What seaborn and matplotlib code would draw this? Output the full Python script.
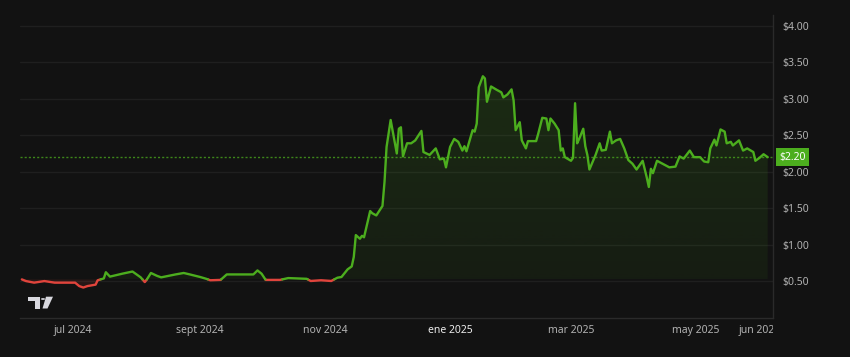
import numpy as np
import pandas as pd
import matplotlib
matplotlib.use("Agg")
import matplotlib.pyplot as plt
import matplotlib.dates as mdates
import seaborn as sns
from matplotlib.path import Path
from matplotlib.patches import PathPatch, Circle, Polygon
from matplotlib.transforms import Bbox, TransformedBbox, blended_transform_factory

# ---------------- data ----------------
dates = [
    "2024-06-06", "2024-06-08", "2024-06-12", "2024-06-17", "2024-06-22", "2024-07-02",
    "2024-07-04", "2024-07-06", "2024-07-08", "2024-07-12", "2024-07-13", "2024-07-16",
    "2024-07-17", "2024-07-19", "2024-07-25", "2024-07-30", "2024-08-03", "2024-08-05",
    "2024-08-06", "2024-08-08", "2024-08-11", "2024-08-13", "2024-08-20", "2024-08-24",
    "2024-08-27", "2024-09-01", "2024-09-04", "2024-09-06", "2024-09-11", "2024-09-14",
    "2024-09-24", "2024-09-27", "2024-09-29", "2024-10-01", "2024-10-03", "2024-10-10",
    "2024-10-14", "2024-10-23", "2024-10-25", "2024-10-30", "2024-11-04", "2024-11-07",
    "2024-11-09", "2024-11-12", "2024-11-14", "2024-11-15", "2024-11-16", "2024-11-18",
    "2024-11-19", "2024-11-20", "2024-11-21", "2024-11-23", "2024-11-24", "2024-11-26",
    "2024-11-29", "2024-11-30", "2024-12-01", "2024-12-03", "2024-12-06", "2024-12-07",
    "2024-12-08", "2024-12-09", "2024-12-11", "2024-12-13", "2024-12-15", "2024-12-18",
    "2024-12-19", "2024-12-22", "2024-12-25", "2024-12-27", "2024-12-29", "2024-12-30",
    "2025-01-01", "2025-01-03", "2025-01-05", "2025-01-07", "2025-01-08", "2025-01-09",
    "2025-01-12", "2025-01-13", "2025-01-14", "2025-01-15", "2025-01-17", "2025-01-18",
    "2025-01-19", "2025-01-21", "2025-01-24", "2025-01-26", "2025-01-27", "2025-01-29",
    "2025-01-31", "2025-02-01", "2025-02-02", "2025-02-04", "2025-02-05", "2025-02-07",
    "2025-02-08", "2025-02-12", "2025-02-13", "2025-02-15", "2025-02-17", "2025-02-18",
    "2025-02-19", "2025-02-21", "2025-02-23", "2025-02-24", "2025-02-25", "2025-02-26",
    "2025-03-01", "2025-03-02", "2025-03-03", "2025-03-04", "2025-03-05", "2025-03-07",
    "2025-03-08", "2025-03-09", "2025-03-10", "2025-03-13", "2025-03-15", "2025-03-16",
    "2025-03-18", "2025-03-20", "2025-03-21", "2025-03-23", "2025-03-25", "2025-03-27",
    "2025-03-29", "2025-03-31", "2025-04-02", "2025-04-05", "2025-04-07", "2025-04-08",
    "2025-04-09", "2025-04-10", "2025-04-12", "2025-04-16", "2025-04-18", "2025-04-21",
    "2025-04-23", "2025-04-25", "2025-04-28", "2025-04-30", "2025-05-03", "2025-05-05",
    "2025-05-07", "2025-05-08", "2025-05-10", "2025-05-11", "2025-05-13", "2025-05-15",
    "2025-05-16", "2025-05-18", "2025-05-19", "2025-05-22", "2025-05-24", "2025-05-26",
    "2025-05-29", "2025-05-30", "2025-06-01", "2025-06-03", "2025-06-05",
]
prices = [
    0.522, 0.499, 0.477, 0.499, 0.477, 0.477,
    0.43, 0.41, 0.43, 0.45, 0.51, 0.535,
    0.62, 0.56, 0.60, 0.63, 0.55, 0.485,
    0.52, 0.61, 0.57, 0.55, 0.59, 0.61,
    0.59, 0.555, 0.53, 0.51, 0.515, 0.59,
    0.59, 0.59, 0.645, 0.60, 0.515, 0.515,
    0.54, 0.53, 0.50, 0.51, 0.50, 0.545,
    0.555, 0.66, 0.70, 0.83, 1.13, 1.08,
    1.12, 1.10, 1.22, 1.46, 1.43, 1.40,
    1.53, 1.86, 2.34, 2.71, 2.25, 2.59,
    2.61, 2.21, 2.39, 2.39, 2.43, 2.56,
    2.27, 2.23, 2.32, 2.17, 2.18, 2.06,
    2.34, 2.45, 2.41, 2.29, 2.35, 2.28,
    2.57, 2.55, 2.66, 3.16, 3.31, 3.28,
    2.96, 3.17, 3.12, 3.09, 3.02, 3.06,
    3.13, 2.98, 2.57, 2.68, 2.43, 2.32,
    2.42, 2.42, 2.52, 2.74, 2.73, 2.57,
    2.73, 2.66, 2.57, 2.29, 2.32, 2.20,
    2.15, 2.19, 2.94, 2.39, 2.45, 2.59,
    2.35, 2.23, 2.03, 2.23, 2.39, 2.29,
    2.30, 2.55, 2.39, 2.43, 2.45, 2.32,
    2.16, 2.11, 2.03, 2.15, 1.92, 1.79,
    2.04, 1.98, 2.15, 2.09, 2.06, 2.07,
    2.21, 2.18, 2.29, 2.20, 2.20, 2.14,
    2.13, 2.32, 2.44, 2.36, 2.58, 2.55,
    2.39, 2.41, 2.36, 2.43, 2.29, 2.32,
    2.27, 2.15, 2.19, 2.24, 2.20,
]
tick_dates = ["2024-07-01", "2024-09-01", "2024-11-01", "2025-01-01",
              "2025-03-01", "2025-05-01", "2025-06-01"]
tick_labels = ["jul 2024", "sept 2024", "nov 2024", "ene 2025",
               "mar 2025", "may 2025", "jun 2025"]
y_ticks = [0.5, 1.0, 1.5, 2.0, 2.5, 3.0, 3.5, 4.0]
last_price = 2.20

# ---------------- style ----------------
BG = "#121212"
GREEN = "#4cae1e"
RED = "#e0443c"
GRID = "#1f1f1f"
TXT = "#b2b2b2"

sns.set_theme(style="dark", rc={
    "figure.facecolor": BG, "axes.facecolor": BG, "savefig.facecolor": BG,
})
plt.rcParams["font.family"] = ["Noto Sans", "DejaVu Sans"]

W, H = 850, 357
fig = plt.figure(figsize=(W / 100, H / 100), dpi=100)
ax = fig.add_axes([20 / W, 39 / H, 753 / W, 303 / H])
ax.set_facecolor(BG)

t = mdates.date2num(pd.to_datetime(dates).to_pydatetime())
p = np.array(prices, dtype=float)
base = p[0]

# insert crossings with the baseline so colours switch exactly there
pts_t, pts_p = [t[0]], [p[0]]
for i in range(len(p) - 1):
    a, b = p[i] - base, p[i + 1] - base
    if a * b < 0:
        f = a / (a - b)
        pts_t.append(t[i] + f * (t[i + 1] - t[i]))
        pts_p.append(base)
    pts_t.append(t[i + 1])
    pts_p.append(p[i + 1])
pts_t = np.array(pts_t)
pts_p = np.array(pts_p)

rows = []
seg = 0
prev_side = None
for j in range(len(pts_p) - 1):
    side = "up" if (pts_p[j] + pts_p[j + 1]) / 2 >= base else "down"
    if side != prev_side:
        seg += 1
        rows.append((pts_t[j], pts_p[j], seg, side))
        prev_side = side
    rows.append((pts_t[j + 1], pts_p[j + 1], seg, side))
df = pd.DataFrame(rows, columns=["t", "price", "seg", "side"])

# fills
up_poly = ax.fill_between(t, p, base, where=p >= base, interpolate=True,
                          color="none", lw=0)
ax.fill_between(t, p, base, where=p <= base, interpolate=True,
                color=RED, alpha=0.10, lw=0, zorder=1)

xmin = mdates.date2num(pd.Timestamp("2024-07-01").to_pydatetime()) - 25.9
xmax = xmin + 367.5
ymin, ymax = -0.008, 4.151

grad = np.zeros((256, 1, 4))
g = matplotlib.colors.to_rgb(GREEN)
grad[..., 0], grad[..., 1], grad[..., 2] = g
grad[:, 0, 3] = np.linspace(0.17, 0.07, 256)
im = ax.imshow(grad, extent=[xmin, xmax, base, p.max()], origin="upper",
               aspect="auto", zorder=1, interpolation="bilinear")
paths = up_poly.get_paths()
if paths:
    cp = PathPatch(Path.make_compound_path(*paths), transform=ax.transData,
                   facecolor="none", edgecolor="none")
    im.set_clip_path(cp)

# line
sns.lineplot(data=df, x="t", y="price", units="seg", hue="side",
             palette={"up": GREEN, "down": RED}, estimator=None, sort=False,
             legend=False, lw=1.7, ax=ax, zorder=3)
for ln in ax.get_lines():
    ln.set_solid_joinstyle("round")
    ln.set_solid_capstyle("round")

ax.axhline(last_price, color=GREEN, ls=(0, (1.5, 1.5)), lw=1.0, alpha=0.75, zorder=2)

ax.set_xlim(xmin, xmax)
ax.set_ylim(ymin, ymax)
ax.set_xlabel("")
ax.set_ylabel("")

# axes styling
for s in ["left", "top"]:
    ax.spines[s].set_visible(False)
for s in ["right", "bottom"]:
    ax.spines[s].set_visible(True)
    ax.spines[s].set_color("#2a2a2a")
    ax.spines[s].set_linewidth(1.0)

ax.yaxis.tick_right()
ax.set_yticks(y_ticks)
ax.set_yticklabels([f"${v:.2f}" for v in y_ticks])
ax.tick_params(axis="y", length=0, pad=6.5, labelsize=7.5, colors=TXT)
ax.grid(axis="y", color=GRID, lw=1.0)
ax.grid(axis="x", visible=False)

ax.set_xticks(mdates.date2num(pd.to_datetime(tick_dates).to_pydatetime()))
ax.set_xticklabels(tick_labels)
ax.tick_params(axis="x", length=0, pad=5, labelsize=7.5, colors=TXT)
clip = TransformedBbox(Bbox([[0, 0], [773 / W, 1]]), fig.transFigure)
for lbl in ax.get_xticklabels():
    if lbl.get_text().startswith("ene"):
        lbl.set_fontweight("bold")
        lbl.set_color("#ececec")
    lbl.set_clip_on(True)
    lbl.set_clip_box(clip)

# last price tag
tr = blended_transform_factory(ax.transAxes, ax.transData)
ax.annotate("$2.20", xy=(1.0, last_price), xycoords=tr,
            xytext=(4.5, 0), textcoords="offset points",
            ha="left", va="center", fontsize=7.5, color="white", zorder=5,
            annotation_clip=False,
            bbox=dict(boxstyle="square,pad=0.35", fc=GREEN, ec="none"))

# TradingView-like logo
def px(x, y):
    return (x / W, 1 - y / H)

LOGO = "#d8d8de"
fig.patches.append(Polygon([px(28.3, 296.7), px(40, 296.7), px(40, 308.5),
                            px(35, 308.5), px(35, 301), px(28.3, 301)],
                           closed=True, transform=fig.transFigure, fc=LOGO, ec="none"))
fig.patches.append(Circle(px(43, 299), 2.1 / W, transform=fig.transFigure,
                          fc=LOGO, ec="none"))
fig.patches.append(Polygon([px(46, 296.7), px(53, 296.7), px(47.5, 308.5),
                            px(42.5, 308.5)],
                           closed=True, transform=fig.transFigure, fc=LOGO, ec="none"))

fig.savefig("out.png", dpi=100, facecolor=BG)
